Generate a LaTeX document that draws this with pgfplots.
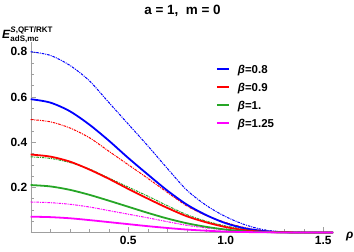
\documentclass[border=0pt]{standalone}
\usepackage{pgfplots}
\pgfplotsset{compat=1.18}
\usepackage{amsmath}
\usepackage{fontspec}
\setmainfont{Liberation Sans}
\usetikzlibrary{calc}
\definecolor{mblue}{rgb}{0,0,1}
\definecolor{mred}{rgb}{1,0,0}
\definecolor{mgreen}{rgb}{0.15,0.65,0.15}
\definecolor{mmag}{rgb}{1,0,1}
\tikzset{dd/.style={line width=1pt, dash pattern=on 2.6pt off 1pt on 1pt off 1pt}}
\begin{document}
\begin{tikzpicture}
\begin{axis}[
  scale only axis, width=302.3bp, height=190.5bp,
  xmin=0, xmax=1.55, ymin=0, ymax=0.843,
  clip=false,
  axis lines=left, axis line style={-, draw=gray!75},
  xtick={0.5,1.0,1.5}, xticklabels={0.5,1.0,1.5},
  ytick={0.2,0.4,0.6,0.8}, yticklabels={0.2,0.4,0.6,0.8},
  minor xtick={0.1,0.2,0.3,0.4,0.6,0.7,0.8,0.9,1.1,1.2,1.3,1.4},
  minor ytick={0.05,0.1,0.15,0.25,0.3,0.35,0.45,0.5,0.55,0.65,0.7,0.75},
  tick align=inside, major tick length=5bp, minor tick length=3bp,
  every tick/.style={gray!75, thin},
  ticklabel style={font=\bfseries\fontsize{12}{14}\selectfont},
  legend cell align=left,
  legend style={draw=none, fill=none, at={(rel axis cs:0.612,0.879)}, anchor=north west,
    font=\bfseries\fontsize{11.5}{13}\selectfont, inner sep=0pt,
    nodes={inner sep=0pt, text height=8bp, text depth=0bp},
    column sep=7.7bp, row sep=10bp},
  legend image code/.code={\draw[#1, line width=2pt] (0bp,0bp) -- (12.3bp,0bp);},
]
\addplot[mblue, dd, smooth, forget plot] coordinates {(0,0.800)(0.1,0.784)(0.2,0.740)(0.3,0.672)(0.4,0.576)(0.5,0.480)(0.6,0.384)(0.7,0.284)(0.8,0.188)(0.9,0.120)(1.0,0.070)(1.1,0.034)(1.2,0.011)(1.3,0.003)(1.4,0.001)(1.55,0)};
\addplot[mred, dd, smooth, forget plot] coordinates {(0,0.500)(0.1,0.490)(0.2,0.463)(0.3,0.420)(0.4,0.360)(0.5,0.300)(0.6,0.240)(0.7,0.178)(0.8,0.118)(0.9,0.075)(1.0,0.044)(1.1,0.021)(1.2,0.007)(1.3,0.002)(1.4,0)(1.55,0)};
\addplot[mgreen, dd, smooth, forget plot] coordinates {(0,0.335)(0.1,0.328)(0.2,0.310)(0.3,0.281)(0.4,0.241)(0.5,0.201)(0.6,0.161)(0.7,0.119)(0.8,0.079)(0.9,0.050)(1.0,0.029)(1.1,0.014)(1.2,0.005)(1.3,0.001)(1.4,0)(1.55,0)};
\addplot[mmag, dd, smooth, forget plot] coordinates {(0,0.135)(0.1,0.132)(0.2,0.125)(0.3,0.113)(0.4,0.097)(0.5,0.081)(0.6,0.065)(0.7,0.048)(0.8,0.032)(0.9,0.020)(1.0,0.012)(1.1,0.006)(1.2,0.002)(1.3,0)(1.4,0)(1.55,0)};
\addplot[mblue, line width=1.8pt, smooth] coordinates {(0,0.590)(0.1,0.575)(0.2,0.537)(0.3,0.478)(0.4,0.407)(0.5,0.330)(0.6,0.257)(0.7,0.186)(0.8,0.124)(0.9,0.077)(1.0,0.041)(1.1,0.018)(1.2,0.006)(1.3,0.001)(1.4,0)(1.55,0)};
\addlegendentry{\textit{β}=0.8}
\addplot[mred, line width=1.8pt, smooth] coordinates {(0,0.345)(0.1,0.336)(0.2,0.314)(0.3,0.279)(0.4,0.238)(0.5,0.193)(0.6,0.150)(0.7,0.109)(0.8,0.072)(0.9,0.045)(1.0,0.024)(1.1,0.010)(1.2,0.003)(1.3,0.001)(1.4,0)(1.55,0)};
\addlegendentry{\textit{β}=0.9}
\addplot[mgreen, line width=1.8pt, smooth] coordinates {(0,0.210)(0.1,0.204)(0.2,0.189)(0.3,0.167)(0.4,0.141)(0.5,0.114)(0.6,0.087)(0.7,0.062)(0.8,0.041)(0.9,0.025)(1.0,0.013)(1.1,0.005)(1.2,0.002)(1.3,0)(1.4,0)(1.55,0)};
\addlegendentry{\textit{β}=1.}
\addplot[mmag, line width=1.8pt, smooth] coordinates {(0,0.070)(0.1,0.068)(0.2,0.063)(0.3,0.055)(0.4,0.046)(0.5,0.037)(0.6,0.028)(0.7,0.020)(0.8,0.013)(0.9,0.008)(1.0,0.004)(1.1,0.002)(1.2,0.001)(1.3,0)(1.4,0)(1.55,0)};
\addlegendentry{\textit{β}=1.25}
\end{axis}
\node[anchor=base, font=\bfseries\fontsize{13.5}{15}\selectfont] at ($(current axis.south west)+(151.8bp,217.5bp)$) {a = 1,\ \ m = 0};
\node[anchor=base west, inner sep=0pt, font=\bfseries\fontsize{12}{14}\selectfont] at ($(current axis.south west)+(-28.7bp,194.2bp)$) {\textit{E}$^{\text{\bfseries\itshape S\upshape,QFT/RKT}}_{\text{\bfseries adS,mc}}$};
\node[anchor=base west, inner sep=0pt, font=\bfseries\itshape\fontsize{12}{14}\selectfont] at ($(current axis.south west)+(315.3bp,-5.5bp)$) {ρ};
\pgfresetboundingbox
\path[use as bounding box] ($(current axis.south west)+(-30.7bp,-19.5bp)$) rectangle ++(354bp,252bp);
\end{tikzpicture}
\end{document}
